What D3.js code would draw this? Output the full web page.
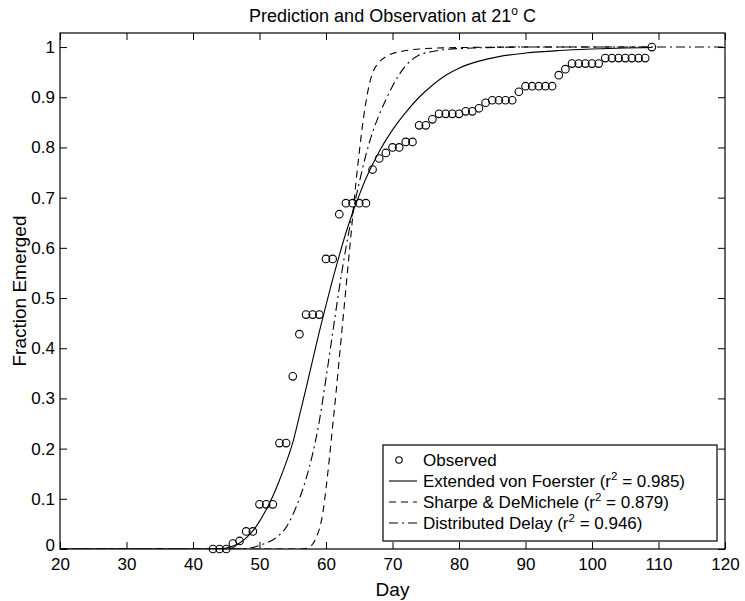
<!DOCTYPE html>
<html>
<head>
<meta charset="utf-8">
<script src="https://cdn.jsdelivr.net/npm/d3@7"></script>
<style>
  html, body { margin: 0; padding: 0; background: #fff; }
  svg { display: block; }
  text { font-family: "Liberation Sans", Arial, Helvetica, sans-serif; fill: #000; }
</style>
</head>
<body>
<svg id="chart" width="745" height="601"></svg>
<script>
// Observed emergence (cumulative fraction by day)
const obsDay = [43,44,45,46,47,48,49,50,51,52,53,54,55,56,57,58,59,60,61,62,63,64,65,66,67,68,69,70,71,72,73,74,75,76,77,78,79,80,81,82,83,84,85,86,87,88,89,90,91,92,93,94,95,96,97,98,99,100,101,102,103,104,105,106,107,108,109];
const obsFrac = [0,0,0,0.011,0.016,0.035,0.035,0.089,0.089,0.089,0.211,0.211,0.344,0.428,0.467,0.467,0.467,0.578,0.578,0.667,0.689,0.689,0.689,0.689,0.756,0.778,0.789,0.800,0.800,0.811,0.811,0.844,0.844,0.856,0.867,0.867,0.867,0.867,0.872,0.872,0.878,0.889,0.894,0.894,0.894,0.894,0.911,0.922,0.922,0.922,0.922,0.922,0.944,0.956,0.967,0.967,0.967,0.967,0.967,0.978,0.978,0.978,0.978,0.978,0.978,0.978,1.0];

// Extended von Foerster prediction (runs to the last observation day)
const evfDay  = [20,44,45,46,47,48,49,50,51,52,53,54,55,56,57,58,59,60,61,62,63,64,65,66,67,68,70,72,74,76,78,80,83,86,90,95,100,105,109];
const evfFrac = [0,0,0.002,0.006,0.012,0.022,0.036,0.055,0.078,0.105,0.137,0.172,0.212,0.265,0.32,0.377,0.433,0.486,0.537,0.585,0.63,0.67,0.705,0.738,0.766,0.792,0.835,0.87,0.9,0.924,0.944,0.958,0.972,0.981,0.988,0.993,0.996,0.998,0.999];

// Sharpe & DeMichele prediction (runs to the last observation day)
const sdmDay  = [20,56,57,57.5,58,58.5,59,59.5,60,60.5,61,61.5,62,62.5,63,63.5,64,64.5,65,65.5,66,66.5,67,68,69,70,72,75,80,90,109];
const sdmFrac = [0,0,0.001,0.004,0.01,0.022,0.04,0.07,0.12,0.18,0.245,0.31,0.38,0.45,0.52,0.59,0.66,0.73,0.79,0.845,0.89,0.925,0.948,0.97,0.981,0.987,0.993,0.997,0.999,1,1];

// Distributed Delay prediction
const ddDay  = [20,46,48,49,50,51,52,53,54,55,56,57,58,59,60,61,62,63,64,65,66,67,68,69,70,71,72,74,76,78,82,90,120];
const ddFrac = [0,0,0.001,0.003,0.007,0.012,0.018,0.028,0.043,0.068,0.1,0.14,0.19,0.255,0.34,0.43,0.52,0.6,0.67,0.73,0.785,0.83,0.865,0.895,0.922,0.945,0.963,0.984,0.991,0.995,0.998,1,1];

const xTicks = [20,30,40,50,60,70,80,90,100,110,120];
const yTicks = [0,0.1,0.2,0.3,0.4,0.5,0.6,0.7,0.8,0.9,1];
const yTickLabels = ["0","0.1","0.2","0.3","0.4","0.5","0.6","0.7","0.8","0.9","1"];

const legendItems = [
  {label: "Observed", r2: null, kind: "marker"},
  {label: "Extended von Foerster", r2: "0.985", kind: "solid"},
  {label: "Sharpe & DeMichele", r2: "0.879", kind: "dashed"},
  {label: "Distributed Delay", r2: "0.946", kind: "dashdot"}
];

const plot = {left: 60, right: 725, top: 33, bottom: 549};
const svg = d3.select("#chart");

const x = d3.scaleLinear().domain([20, 120]).range([plot.left, plot.right]);
const y = d3.scaleLinear().domain([0, 1.028]).range([plot.bottom, plot.top]);

const dashes = {solid: null, dashed: "7,5", dashdot: "9,4,2,4"};

// model curves
const line = d3.line().x(d => x(d[0])).y(d => y(d[1])).curve(d3.curveMonotoneX);
const series = [
  {days: ddDay,  vals: ddFrac,  kind: "dashdot"},
  {days: sdmDay, vals: sdmFrac, kind: "dashed"},
  {days: evfDay, vals: evfFrac, kind: "solid"}
];
svg.append("clipPath").attr("id", "plotclip").append("rect")
  .attr("x", plot.left).attr("y", plot.top)
  .attr("width", plot.right - plot.left).attr("height", plot.bottom - plot.top);

const curves = svg.append("g").attr("clip-path", "url(#plotclip)");
series.forEach(s => {
  curves.append("path")
    .datum(s.days.map((d, i) => [d, s.vals[i]]))
    .attr("d", line)
    .attr("fill", "none")
    .attr("stroke", "#000")
    .attr("stroke-width", 1.1)
    .attr("stroke-dasharray", dashes[s.kind]);
});

// observed points
svg.append("g").selectAll("circle")
  .data(obsDay.map((d, i) => [d, obsFrac[i]]))
  .join("circle")
  .attr("cx", d => x(d[0])).attr("cy", d => y(d[1]))
  .attr("r", 3.8)
  .attr("fill", "none").attr("stroke", "#000").attr("stroke-width", 1.1);

// axes: inward ticks on all four sides
const tickLen = 7;
const axB = d3.axisBottom(x).tickValues(xTicks).tickSizeInner(-tickLen).tickSizeOuter(0).tickPadding(9);
const axT = d3.axisTop(x).tickValues(xTicks).tickSizeInner(-tickLen).tickSizeOuter(0).tickFormat("");
const axL = d3.axisLeft(y).tickValues(yTicks).tickSizeInner(-tickLen).tickSizeOuter(0)
  .tickPadding(5).tickFormat((d, i) => yTickLabels[i]);
const axR = d3.axisRight(y).tickValues(yTicks).tickSizeInner(-tickLen).tickSizeOuter(0).tickFormat("");

function styleAxis(g) {
  g.select(".domain").remove();
  g.selectAll(".tick line").attr("stroke", "#000").attr("stroke-width", 1);
  g.selectAll(".tick text").style("font-size", "17px").attr("fill", "#000");
}
svg.append("g").attr("transform", `translate(0,${plot.bottom})`).call(axB).call(styleAxis);
svg.append("g").attr("transform", `translate(0,${plot.top})`).call(axT).call(styleAxis);
const gLeft = svg.append("g").attr("transform", `translate(${plot.left},0)`).call(axL).call(styleAxis);
// lift the bottom "0" a little so it clears the "20" underneath
gLeft.selectAll(".tick text").filter(d => d === 0).attr("dy", "0.1em");
svg.append("g").attr("transform", `translate(${plot.right},0)`).call(axR).call(styleAxis);

svg.append("rect")
  .attr("x", plot.left).attr("y", plot.top)
  .attr("width", plot.right - plot.left).attr("height", plot.bottom - plot.top)
  .attr("fill", "none").attr("stroke", "#000").attr("stroke-width", 1.2);

// title and axis labels
const title = svg.append("text")
  .attr("x", (plot.left + plot.right) / 2).attr("y", 22)
  .attr("text-anchor", "middle").style("font-size", "18px");
title.append("tspan").text("Prediction and Observation at 21");
title.append("tspan").attr("dy", -7).style("font-size", "12px").text("o");
title.append("tspan").attr("dy", 7).text(" C");

svg.append("text")
  .attr("x", (plot.left + plot.right) / 2).attr("y", 596)
  .attr("text-anchor", "middle").style("font-size", "19px").text("Day");

svg.append("text")
  .attr("transform", `translate(26,${(plot.top + plot.bottom) / 2}) rotate(-90)`)
  .attr("text-anchor", "middle").style("font-size", "19px").text("Fraction Emerged");

// legend
const lg = {x0: 383, x1: 717, y0: 445, y1: 541};
const legend = svg.append("g");
legend.append("rect")
  .attr("x", lg.x0).attr("y", lg.y0)
  .attr("width", lg.x1 - lg.x0).attr("height", lg.y1 - lg.y0)
  .attr("fill", "#fff").attr("stroke", "#000").attr("stroke-width", 1.2);

const rowY = d3.scalePoint().domain(legendItems.map(d => d.label)).range([lg.y0 + 15, lg.y1 - 18]);
legendItems.forEach(item => {
  const cy = rowY(item.label);
  if (item.kind === "marker") {
    legend.append("circle").attr("cx", lg.x0 + 16).attr("cy", cy).attr("r", 3.2)
      .attr("fill", "none").attr("stroke", "#000").attr("stroke-width", 1.1);
  } else {
    legend.append("line")
      .attr("x1", lg.x0 + 6).attr("x2", lg.x0 + 34).attr("y1", cy).attr("y2", cy)
      .attr("stroke", "#000").attr("stroke-width", 1.1)
      .attr("stroke-dasharray", dashes[item.kind]);
  }
  const t = legend.append("text").attr("x", lg.x0 + 40).attr("y", cy + 6).style("font-size", "17px");
  if (item.r2 === null) {
    t.text(item.label);
  } else {
    t.append("tspan").text(item.label + " (r");
    t.append("tspan").attr("dy", -7).style("font-size", "11.5px").text("2");
    t.append("tspan").attr("dy", 7).text(" = " + item.r2 + ")");
  }
});
</script>
</body>
</html>
